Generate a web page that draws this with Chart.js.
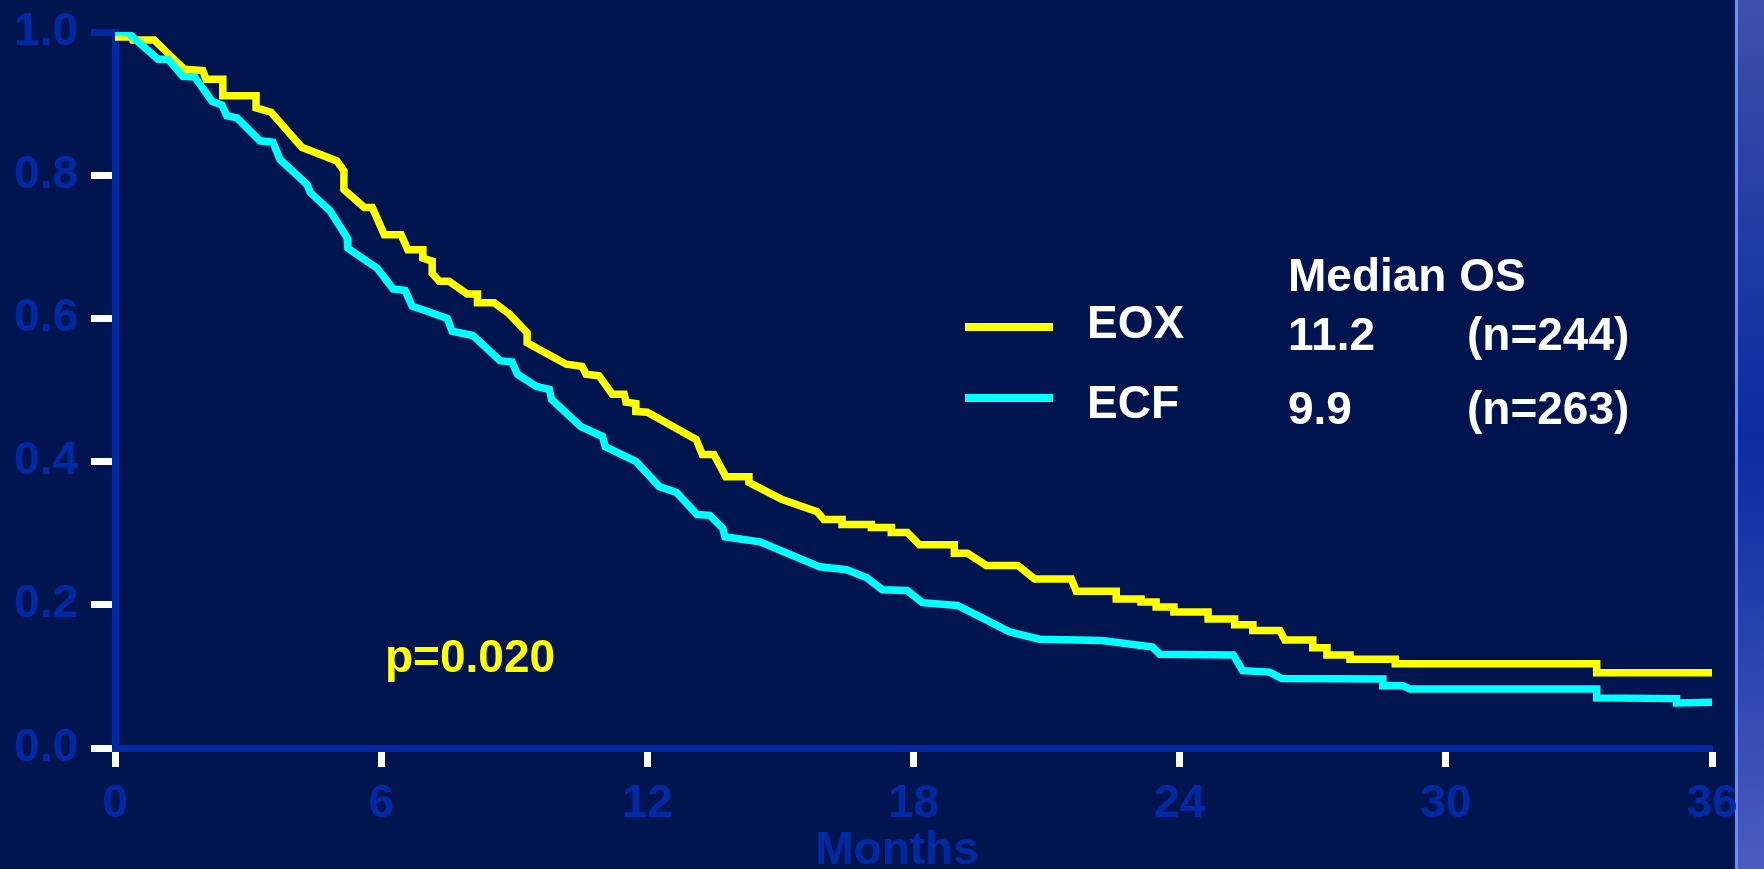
<!DOCTYPE html>
<html>
<head>
<meta charset="utf-8">
<script src="https://cdn.jsdelivr.net/npm/chart.js@4.4.1/dist/chart.umd.min.js"></script>
<style>
  html, body { margin: 0; padding: 0; background: #001450; overflow: hidden; }
  #wrap { position: relative; width: 1764px; height: 869px; }
</style>
</head>
<body>
<div id="wrap"><canvas id="os-chart"></canvas></div>
<script>
// Kaplan-Meier overall survival
const eoxMonths = [0, 0.38, 0.40, 0.88, 1.56, 1.98, 2.05, 2.43, 2.43, 3.18, 3.18, 3.52, 4.21, 5.0, 5.16, 5.16,
  5.62, 5.80, 6.07, 6.45, 6.60, 6.94, 6.94, 7.15, 7.15, 7.31, 7.53, 7.94, 8.17, 8.17, 8.55, 8.89, 9.29, 9.29,
  10.17, 10.53, 10.62, 10.91, 11.21, 11.48, 11.52, 11.74, 11.74, 12.0, 13.10, 13.24, 13.5, 13.77, 14.29, 14.29,
  15.04, 15.83, 15.98, 16.39, 16.39, 17.05, 17.05, 17.5, 17.5, 17.86, 18.13, 18.92, 18.92, 19.22, 19.64, 20.35,
  20.73, 21.56, 21.67, 22.57, 22.57, 23.13, 23.13, 23.47, 23.47, 23.87, 23.87, 24.64, 24.64, 25.24, 25.24, 25.65,
  25.65, 26.26, 26.37, 27.0, 27.0, 27.32, 27.32, 27.84, 27.84, 28.86, 28.86, 33.40, 33.40, 36.0]
const eoxSurvival = [0.993, 0.993, 0.989, 0.989, 0.948, 0.946, 0.934, 0.934, 0.911, 0.911, 0.894, 0.888, 0.839, 0.820, 0.806, 0.780,
  0.755, 0.755, 0.717, 0.717, 0.696, 0.696, 0.684, 0.680, 0.663, 0.652, 0.652, 0.634, 0.634, 0.622, 0.622, 0.606, 0.580, 0.566,
  0.536, 0.533, 0.522, 0.520, 0.494, 0.494, 0.483, 0.481, 0.470, 0.469, 0.431, 0.410, 0.410, 0.379, 0.379, 0.371,
  0.347, 0.330, 0.319, 0.319, 0.312, 0.312, 0.308, 0.308, 0.301, 0.301, 0.284, 0.284, 0.272, 0.272, 0.255, 0.255,
  0.236, 0.236, 0.219, 0.219, 0.208, 0.208, 0.204, 0.204, 0.197, 0.197, 0.190, 0.190, 0.180, 0.180, 0.172, 0.172,
  0.164, 0.164, 0.151, 0.151, 0.140, 0.140, 0.130, 0.130, 0.124, 0.124, 0.1175, 0.1175, 0.105, 0.105]

const ecfMonths = [0, 0.27, 0.97, 1.2, 1.53, 1.8, 2.19, 2.41, 2.52, 2.75, 3.27, 3.56, 3.72, 4.33, 4.40, 4.85, 5.23, 5.25,
  5.91, 6.27, 6.54, 6.70, 6.99, 7.49, 7.60, 8.07, 8.68, 8.95, 9.07, 9.5, 9.79, 9.84, 10.5, 10.99, 11.05, 11.75,
  12.27, 12.66, 13.12, 13.41, 13.7, 13.75, 14.54, 15.89, 16.49, 16.94, 17.30, 17.86, 18.2, 18.99, 19.64, 20.17,
  20.84, 22.26, 23.39, 23.55, 25.21, 25.42, 26.03, 26.3, 28.58, 28.58, 29.03, 29.19, 33.40, 33.40, 35.2, 35.2, 36.0]
const ecfSurvival = [1.0, 1.0, 0.962, 0.962, 0.938, 0.937, 0.903, 0.898, 0.883, 0.880, 0.848, 0.846, 0.822, 0.787, 0.776, 0.750, 0.713, 0.698,
  0.670, 0.641, 0.639, 0.617, 0.611, 0.600, 0.582, 0.576, 0.541, 0.539, 0.522, 0.505, 0.501, 0.487, 0.449, 0.435, 0.421, 0.400,
  0.365, 0.357, 0.326, 0.325, 0.307, 0.295, 0.288, 0.253, 0.249, 0.238, 0.221, 0.220, 0.203, 0.199, 0.179, 0.162,
  0.152, 0.150, 0.141, 0.131, 0.130, 0.108, 0.106, 0.097, 0.0965, 0.087, 0.087, 0.0825, 0.0825, 0.070, 0.069, 0.063, 0.064]

const seriesNames = ['EOX', 'ECF']
const seriesColors = ['#ffff00', '#00ffff']
const medianOS = ['11.2', '9.9']
const nPatients = [244, 263]
const pValue = '0.020'
const xTitle = 'Months'

const axisBlue = '#0029a5'
const fontFamily = '"Liberation Sans", Arial, sans-serif'

const toPoints = (xs, ys) => xs.map((x, i) => ({ x: x, y: ys[i] }))

const sideBar = {
    id: 'sideBar',
    beforeDraw(chart) {
        const ctx = chart.ctx
        const g = ctx.createLinearGradient(0, 0, 0, chart.height)
        g.addColorStop(0, '#3d50aa')
        g.addColorStop(0.5, '#0b2b9f')
        g.addColorStop(1, '#4a5cbf')
        ctx.save()
        ctx.fillStyle = g
        ctx.fillRect(1735, 0, chart.width - 1735, chart.height)
        ctx.fillStyle = '#6b8cff'
        ctx.fillRect(1735, 0, 3, chart.height)
        ctx.restore()
    }
}

const annotations = {
    id: 'annotations',
    afterDraw(chart) {
        const ctx = chart.ctx
        ctx.save()
        ctx.font = 'bold 46px ' + fontFamily
        ctx.textAlign = 'left'
        ctx.textBaseline = 'alphabetic'

        // legend + median table
        const lineY = [327, 398]
        const labelBase = [338, 418]
        const valueBase = [350, 424]
        seriesNames.forEach((name, i) => {
            ctx.strokeStyle = seriesColors[i]
            ctx.lineWidth = 8
            ctx.beginPath()
            ctx.moveTo(965, lineY[i])
            ctx.lineTo(1053, lineY[i])
            ctx.stroke()
            ctx.fillStyle = '#ffffff'
            ctx.fillText(name, 1087, labelBase[i])
            ctx.fillText(medianOS[i], 1288, valueBase[i])
            ctx.fillText('(n=' + nPatients[i] + ')', 1467, valueBase[i])
        })
        ctx.fillText('Median OS', 1288, 291)

        ctx.fillStyle = '#ffff00'
        ctx.fillText('p=' + pValue, 385, 672)

        // axis title sits a bit left of centre on the slide
        ctx.fillStyle = axisBlue
        ctx.textAlign = 'center'
        ctx.fillText(xTitle, 897, 864)
        ctx.restore()
    }
}

const render = () => {
    new Chart(document.getElementById('os-chart'), {
        type: 'line',
        data: {
            datasets: [{
                label: seriesNames[0],
                data: toPoints(eoxMonths, eoxSurvival),
                borderColor: seriesColors[0],
                borderWidth: 7.5,
                order: 2
            }, {
                label: seriesNames[1],
                data: toPoints(ecfMonths, ecfSurvival),
                borderColor: seriesColors[1],
                borderWidth: 7.5,
                order: 1
            }]
        },
        options: {
            responsive: true,
            maintainAspectRatio: false,
            animation: false,
            layout: { padding: { top: 32, right: 52, left: 0, bottom: 0 } },
            elements: {
                point: { radius: 0 },
                line: { tension: 0, borderJoinStyle: 'miter', borderCapStyle: 'butt' }
            },
            plugins: { legend: { display: false }, tooltip: { enabled: false } },
            scales: {
                x: {
                    type: 'linear',
                    min: 0,
                    max: 36,
                    afterFit: s => { s.height = 121 },
                    border: { display: true, color: axisBlue, width: 7 },
                    grid: { drawOnChartArea: false, drawTicks: true, tickLength: 19, tickWidth: 7, tickColor: '#ffffff' },
                    ticks: {
                        stepSize: 6,
                        padding: 10,
                        color: axisBlue,
                        font: { family: fontFamily, size: 46, weight: 'bold' },
                        callback: v => v.toString()
                    }
                },
                y: {
                    min: 0,
                    max: 1,
                    afterFit: s => { s.width = 115; s.paddingTop = 0 },
                    border: { display: true, color: axisBlue, width: 7 },
                    grid: {
                        drawOnChartArea: false, drawTicks: true, tickLength: 24, tickWidth: 7,
                        tickColor: c => (c.tick && c.tick.value === 1 ? axisBlue : '#ffffff')
                    },
                    ticks: {
                        stepSize: 0.2,
                        padding: 13,
                        color: axisBlue,
                        font: { family: fontFamily, size: 46, weight: 'bold' },
                        callback: v => v.toFixed(1)
                    }
                }
            }
        },
        plugins: [sideBar, annotations]
    })
}

document.addEventListener('DOMContentLoaded', render)
</script>
</body>
</html>
